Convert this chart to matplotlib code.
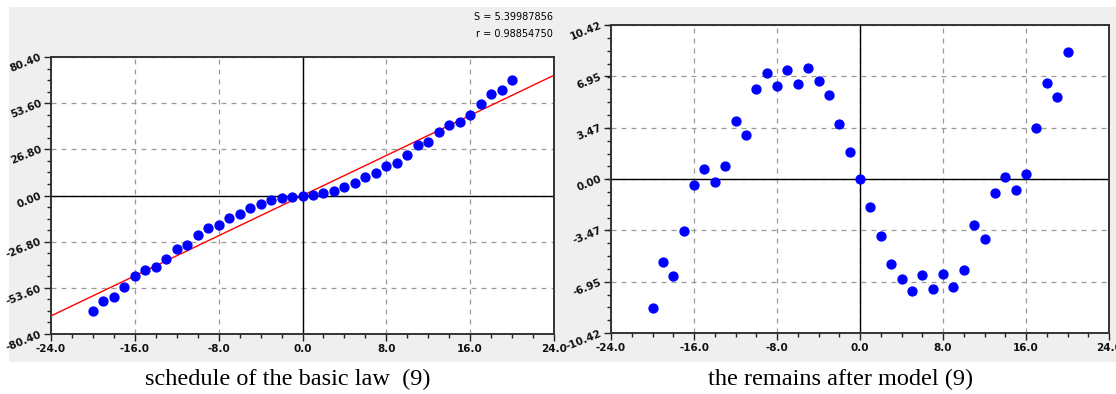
#!/usr/bin/env python3
"""Basic law (9) fit and its residuals, two panels side by side."""

import matplotlib
matplotlib.use("Agg")
import matplotlib.pyplot as plt
import matplotlib.ticker as ticker
from matplotlib.patches import Rectangle

# ── Data ────────────────────────────────────────────────────────────────────
x_vals = list(range(-20, 21))

law_y = [-66.9, -61.3, -59.0, -53.0, -46.8, -43.0, -41.4, -36.6, -30.8, -28.9,
         -23.1, -18.9, -17.1, -13.1, -10.8, -7.1, -5.0, -2.9, -1.7, -0.6,
         0.0, 0.4, 1.5, 2.5, 4.7, 7.4, 10.7, 13.2, 17.4, 18.8,
         23.3, 29.1, 31.0, 36.6, 40.9, 42.8, 46.9, 53.3, 59.1, 61.0, 67.2]

fit_x = [-24.0, 24.0]
fit_y = [-69.9, 69.8]

resid_y = [-8.71, -5.63, -6.58, -3.51, -0.41, 0.70, -0.18, 0.90, 3.95, 3.00,
           6.09, 7.20, 6.28, 7.38, 6.41, 7.52, 6.64, 5.69, 3.75, 1.85,
           0.00, -1.92, -3.87, -5.77, -6.74, -7.60, -6.52, -7.47, -6.40, -7.29,
           -6.15, -3.08, -4.05, -0.96, 0.16, -0.75, 0.34, 3.43, 6.50, 5.55, 8.62]

x_ticks = [-24, -16, -8, 0, 8, 16, 24]
law_yticks = [-80.40, -53.60, -26.80, 0.00, 26.80, 53.60, 80.40]
resid_yticks = [-10.42, -6.95, -3.47, 0.00, 3.47, 6.95, 10.42]

stats_lines = ["S = 5.39987856", "r = 0.98854750"]
captions = ["schedule of the basic law  (9)", "the remains after model (9)"]

# ── Figure ──────────────────────────────────────────────────────────────────
W, H = 1116, 394
fig = plt.figure(figsize=(W / 100, H / 100), dpi=100)
fig.patch.set_facecolor("white")

# grey panel band behind both plots
fig.patches.append(Rectangle((9 / W, 1 - 362 / H), 1107 / W, 355 / H,
                             transform=fig.transFigure, facecolor="#efefef",
                             edgecolor="none", zorder=-10))


def px_axes(x0, y0, x1, y1):
    return fig.add_axes([x0 / W, 1 - y1 / H, (x1 - x0) / W, (y1 - y0) / H])


def style(ax, yticks):
    ax.set_xlim(-24, 24)
    ax.set_ylim(yticks[0], yticks[-1])
    ax.set_xticks(x_ticks)
    ax.set_yticks(yticks)
    ax.xaxis.set_minor_locator(ticker.AutoMinorLocator(4))
    ax.yaxis.set_minor_locator(ticker.AutoMinorLocator(4))
    ax.set_xticklabels([f"{v:.1f}" for v in x_ticks], fontsize=7.5,
                       fontweight="bold", color="#111111")
    ax.set_yticklabels([f"{v:.2f}" for v in yticks], fontsize=7.5,
                       fontweight="bold", color="#111111",
                       rotation=22, rotation_mode="anchor",
                       ha="right", va="center")
    ax.tick_params(which="both", direction="out", color="#222222",
                   top=False, right=False, pad=2)
    ax.tick_params(which="major", length=5, width=1.0)
    ax.tick_params(which="minor", length=3, width=1.0)
    ax.grid(True, which="major", linestyle=(0, (4, 4)), color="#9a9a9a",
            linewidth=0.9)
    ax.axhline(0, color="black", linewidth=1.0, zorder=2)
    ax.axvline(0, color="black", linewidth=1.0, zorder=2)
    for sp in ax.spines.values():
        sp.set_color("#333333")
        sp.set_linewidth(1.4)
    ax.set_facecolor("white")
    ax.set_axisbelow(True)


# ── Left: basic law ─────────────────────────────────────────────────────────
ax_l = px_axes(51, 57, 554, 334)
style(ax_l, law_yticks)
ax_l.plot(fit_x, fit_y, color="red", linewidth=1.0, zorder=3)
ax_l.plot(x_vals, law_y, "o", color="#0000ff", markersize=6.4, zorder=4)

fig.text(553 / W, 1 - 17 / H, stats_lines[0], ha="right", va="center",
         fontsize=7)
fig.text(553 / W, 1 - 34 / H, stats_lines[1], ha="right", va="center",
         fontsize=7)

# ── Right: residuals ────────────────────────────────────────────────────────
ax_r = px_axes(611, 25, 1109, 333)
style(ax_r, resid_yticks)
ax_r.plot(x_vals, resid_y, "o", color="#0000ff", markersize=6.4, zorder=4)

# ── Captions ────────────────────────────────────────────────────────────────
cap_kw = dict(ha="center", va="center", fontsize=17.5,
              family="Liberation Serif")
fig.text(288 / W, 1 - 379 / H, captions[0], **cap_kw)
fig.text(841 / W, 1 - 379 / H, captions[1], **cap_kw)

fig.savefig("out.png", dpi=100, facecolor="white")
plt.close(fig)
